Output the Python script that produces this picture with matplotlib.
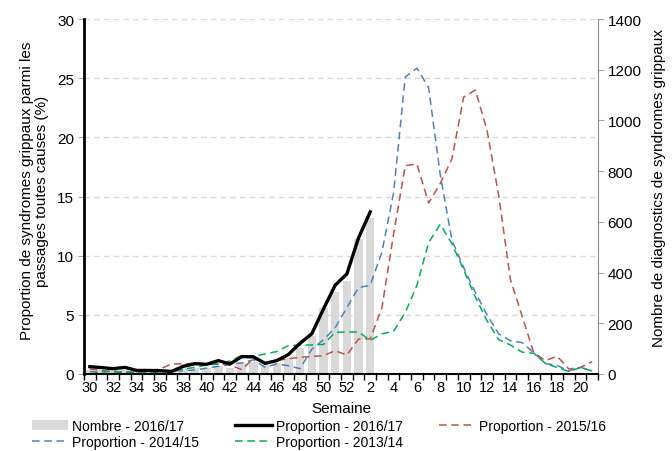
import numpy as np
import matplotlib
matplotlib.use("Agg")
import matplotlib.pyplot as plt
from matplotlib.patches import Patch
from matplotlib.lines import Line2D

plt.rcParams['font.family'] = ['Liberation Sans', 'DejaVu Sans']

# weeks of the season: 30..52 then 1..21
weeks = list(range(30, 53)) + list(range(1, 22))

# 2016/17 season (up to week 2)
nombre_1617 = [16, 15, 14, 15, 10, 10, 10, 9, 18, 24, 22, 30, 22, 45, 48, 35, 42, 62,
               101, 150, 262, 322, 366, 534, 614]
prop_1617 = [0.62, 0.54, 0.45, 0.56, 0.3, 0.3, 0.28, 0.22, 0.65, 0.87, 0.82, 1.13, 0.85,
             1.47, 1.45, 0.9, 1.13, 1.65, 2.6, 3.4, 5.5, 7.5, 8.45, 11.5, 13.7]

# previous seasons (full)
prop_1516 = [0.42, 0.3, 0.2, 0.14, 0.14, 0.28, 0.42, 0.85, 0.85, 0.93, 0.85, 0.85, 0.76,
             0.37, 1.3, 0.95, 1.13, 1.3, 1.41, 1.48, 1.55, 1.97, 1.6, 2.96, 2.96, 5.6,
             11.8, 17.6, 17.75, 14.45, 16.1, 18.2, 23.4, 24.0, 20.6, 15.1, 8.0, 4.9,
             1.8, 1.13, 1.5, 0.42, 0.56, 1.04]
prop_1415 = [0.2, 0.2, 0.22, 0.2, 0.15, 0.18, 0.2, 0.25, 0.28, 0.34, 0.5, 0.65, 0.82,
             0.93, 1.2, 0.56, 0.85, 0.7, 0.45, 2.1, 2.9, 3.9, 5.6, 7.3, 7.5, 10.3,
             15.3, 25.1, 25.85, 24.2, 16.8, 11.3, 9.0, 6.9, 5.0, 3.38, 2.82, 2.65,
             1.8, 0.88, 0.73, 0.25, 0.56, 0.28]
prop_1314 = [0.0, 0.2, 0.2, 0.14, 0.06, 0.08, 0.2, 0.28, 0.42, 0.56, 0.76, 0.85, 1.1,
             1.55, 1.5, 1.69, 1.9, 2.4, 2.45, 2.45, 2.5, 3.52, 3.55, 3.55, 2.85, 3.4,
             3.6, 5.2, 7.5, 11.1, 12.65, 11.0, 8.8, 6.5, 4.5, 2.9, 2.45, 1.85, 1.75,
             0.9, 0.55, 0.22, 0.55, 0.25]

c_red = '#c0504d'
c_blue = '#4f81bd'
c_green = '#00b050'
c_bar = '#d9d9d9'

x_all = np.arange(len(weeks))
x_cur = np.arange(len(prop_1617))

fig = plt.figure(figsize=(6.72, 4.52), dpi=100)
ax = fig.add_axes([84 / 672, 1 - 375 / 452, 514 / 672, 355 / 452])
ax2 = ax.twinx()

# bars on right axis, behind the lines
ax2.bar(x_cur, nombre_1617, width=0.72, color=c_bar, zorder=1)
ax.set_zorder(ax2.get_zorder() + 1)
ax.patch.set_visible(False)

dash = (5, 3)
ax.plot(x_all, prop_1516, color=c_red, lw=1.1, dashes=dash)
ax.plot(x_all, prop_1415, color=c_blue, lw=1.1, dashes=dash)
ax.plot(x_all, prop_1314, color=c_green, lw=1.1, dashes=dash)
ax.plot(x_cur, prop_1617, color='black', lw=2.4, solid_joinstyle='miter')

ax.set_xlim(-0.5, len(weeks) - 0.5)
ax.set_ylim(0, 30)
ax2.set_ylim(0, 1400)

ax.set_yticks(np.arange(0, 31, 5))
ax2.set_yticks(np.arange(0, 1401, 200))
ax.set_xticks(x_all[::2])
ax.set_xticklabels([str(w) for w in weeks[::2]])
ax.set_xticks(np.arange(-0.5, len(weeks), 1), minor=True)
ax.tick_params(axis='x', which='major', length=0, labelsize=10.5, pad=4)
ax.tick_params(axis='x', which='minor', length=4, width=1, color='black')
ax.tick_params(axis='y', length=4, color='#a6a6a6', labelsize=11, pad=3)
ax2.tick_params(axis='y', length=4, color='#a6a6a6', labelsize=11, pad=3)

ax.grid(axis='y', color=c_bar, ls=(0, (4, 3)), lw=1)
ax.set_axisbelow(True)

for s in ['top', 'right']:
    ax.spines[s].set_visible(False)
for s in ['top', 'left', 'bottom']:
    ax2.spines[s].set_visible(False)
ax.spines['left'].set_linewidth(2)
ax.spines['bottom'].set_linewidth(1.5)
ax2.spines['right'].set_color('#8c8c8c')

ax.set_ylabel("Proportion de syndromes grippaux parmi les\npassages toutes causes (%)",
              fontsize=11, linespacing=1.1)
ax.yaxis.set_label_coords(-0.068, 0.518)
ax2.set_ylabel("Nombre de diagnostics de syndromes grippaux", fontsize=11)
ax2.yaxis.set_label_coords(1.106, 0.527)
ax.set_xlabel("Semaine", fontsize=11)
ax.xaxis.set_label_coords(0.5, -0.076)

handles = [
    Patch(facecolor=c_bar, edgecolor='none'),
    Line2D([], [], color=c_blue, lw=1.1, dashes=dash),
    Line2D([], [], color='black', lw=2.4),
    Line2D([], [], color=c_green, lw=1.1, dashes=dash),
    Line2D([], [], color=c_red, lw=1.1, dashes=dash),
]
labels = ["Nombre - 2016/17", "Proportion - 2014/15", "Proportion - 2016/17",
          "Proportion - 2013/14", "Proportion - 2015/16"]
fig.legend(handles, labels, ncol=3, loc='upper left',
           bbox_to_anchor=(32 / 672, 1 - 420 / 452), frameon=False, borderpad=0,
           borderaxespad=0, handlelength=2.6, handletextpad=0.3, columnspacing=2.6,
           labelspacing=0.12, fontsize=10)

fig.savefig("out.png", dpi=100)
